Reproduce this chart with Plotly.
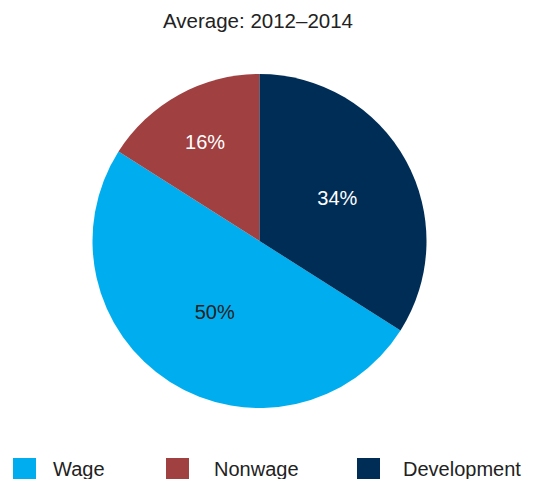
import plotly.graph_objects as go

# Доли расходов, %
labels = ["Wage", "Nonwage", "Development"]
shares = [50, 16, 34]
colors = ["#00AEEF", "#A04041", "#002D56"]
text_colors = ["#222222", "#FFFFFF", "#FFFFFF"]

W, H = 538, 479
OFF = 8  # отступ body в браузере
cx, cy, rad = 259.5 - OFF, 241 - OFF, 167

# положение легенды (px, в координатах страницы)
legend_left = [13, 166, 357]
legend_text = [51, 212, 401]
legend_top = 458
sw = 23


def px_x(v):
    return v / W


def px_y(v):
    return 1 - v / H


# Первый сектор (Wage) начинается там, где кончается Development
rotation = shares[2] / sum(shares) * 360

fig = go.Figure()

fig.add_trace(
    go.Pie(
        labels=labels,
        values=shares,
        sort=False,
        direction="clockwise",
        rotation=rotation,
        marker=dict(colors=colors, line=dict(width=0)),
        textinfo="percent",
        textposition="inside",
        insidetextorientation="horizontal",
        textfont=dict(size=20, color=text_colors),
        hoverinfo="skip",
        showlegend=False,
        domain=dict(
            x=[px_x(cx - rad), px_x(cx + rad)],
            y=[px_y(cy + rad), px_y(cy - rad)],
        ),
    )
)

# Легенда вручную: крупные квадраты как в оригинале
for name, col, left, tx in zip(labels, colors, legend_left, legend_text):
    x0 = left - OFF
    y0 = legend_top - OFF
    fig.add_shape(
        type="rect",
        xref="paper",
        yref="paper",
        x0=px_x(x0),
        x1=px_x(x0 + sw),
        y0=px_y(y0 + sw),
        y1=px_y(y0),
        fillcolor=col,
        line=dict(width=0),
    )
    fig.add_annotation(
        text=name,
        xref="paper",
        yref="paper",
        x=px_x(tx - OFF),
        y=px_y(y0 + 11),
        xanchor="left",
        yanchor="middle",
        showarrow=False,
        font=dict(size=20, color="#222222"),
    )

fig.update_layout(
    width=W,
    height=H,
    margin=dict(l=0, r=0, t=0, b=0),
    paper_bgcolor="white",
    font=dict(family="Liberation Sans, Arial, sans-serif", color="#222222"),
    title=dict(
        text="Average: 2012–2014",
        x=px_x(258 - OFF),
        xanchor="center",
        y=px_y(21 - OFF),
        yanchor="middle",
        font=dict(size=20.5, color="#222222"),
    ),
    showlegend=False,
)

fig.write_html("out.html")
